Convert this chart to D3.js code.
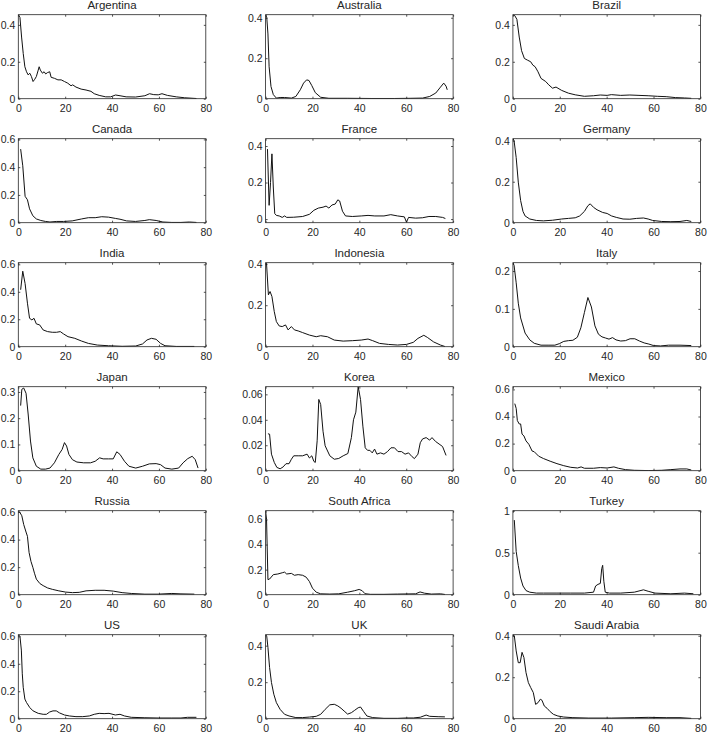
<!DOCTYPE html>
<html>
<head>
<meta charset="utf-8">
<title>Country panels</title>
<script src="https://cdnjs.cloudflare.com/ajax/libs/d3/7.8.5/d3.min.js"></script>
<style>
    body { margin: 0; background: #fff; }
    text { font-family: "Liberation Sans", Arial, sans-serif; fill: #262626; }
</style>
</head>
<body>
<svg id="chart" width="708" height="734"></svg>
<script>
    var countries = ['Argentina', 'Australia', 'Brazil', 'Canada', 'France', 'Germany',
        'India', 'Indonesia', 'Italy', 'Japan', 'Korea', 'Mexico',
        'Russia', 'South Africa', 'Turkey', 'US', 'UK', 'Saudi Arabia'];

    var xTicks = [0, 20, 40, 60, 80];

    // y limits and tick labels
    var yLimits = [[0, 0.455], [0, 0.415], [0, 0.455], [0, 0.605], [-0.02, 0.44], [0, 0.41],
        [0, 0.612], [0, 0.405], [0, 0.222], [0, 0.32], [0, 0.066], [0, 0.62],
        [0, 0.61], [0, 0.67], [0, 1], [0, 0.612], [0, 0.46], [0, 0.405]];
    var yTicks = [[0, 0.2, 0.4], [0, 0.2, 0.4], [0, 0.2, 0.4], [0, 0.2, 0.4, 0.6], [0, 0.2, 0.4], [0, 0.2, 0.4],
        [0, 0.2, 0.4, 0.6], [0, 0.2, 0.4], [0, 0.1, 0.2], [0, 0.1, 0.2, 0.3], [0, 0.02, 0.04, 0.06], [0, 0.2, 0.4, 0.6],
        [0, 0.2, 0.4, 0.6], [0, 0.2, 0.4, 0.6], [0, 0.5, 1], [0, 0.2, 0.4, 0.6], [0, 0.2, 0.4], [0, 0.2, 0.4]];

    var argentina = [[0, 0.455], [0.7, 0.44], [1.4, 0.334], [2.1, 0.245], [2.8, 0.173], [3.5, 0.146], [4.2, 0.129], [4.9, 0.138],
        [5.6, 0.12], [6.3, 0.093], [7, 0.105], [7.7, 0.12], [8.5, 0.155], [8.9, 0.173], [9.4, 0.155], [10.3, 0.138],
        [11, 0.146], [11.7, 0.134], [12.4, 0.141], [13.4, 0.146], [14, 0.116], [15.5, 0.11], [16.9, 0.102], [18.3, 0.102],
        [19.7, 0.093], [21.1, 0.084], [22.5, 0.07], [23.2, 0.075], [24.6, 0.063], [26.8, 0.052], [28.9, 0.047], [31, 0.04],
        [32.4, 0.027], [34.5, 0.018], [37.3, 0.01], [39.4, 0.01], [41.5, 0.02], [43.4, 0.016], [46, 0.01], [50, 0.009],
        [54, 0.016], [56, 0.027], [57.8, 0.022], [59.7, 0.021], [61.3, 0.027], [63.6, 0.018], [67.4, 0.01], [71, 0.005], [76, 0.001]];

    var australia = [[0, 0.415], [0.5, 0.4], [1, 0.32], [1.5, 0.158], [2.3, 0.06], [3.3, 0.02], [4.6, 0.003], [6.2, 0.006],
        [8, 0.006], [11, 0.003], [12.9, 0.011], [14.8, 0.044], [16.2, 0.077], [17.5, 0.093], [18.5, 0.09], [19.7, 0.065],
        [21.2, 0.03], [23.5, 0.007], [27, 0.002], [35, 0.002], [45, 0.001], [55, 0.001], [62, 0.002], [67, 0.003],
        [70, 0.011], [72.6, 0.028], [74.6, 0.057], [76, 0.077], [77, 0.062], [77.5, 0.044]];

    var brazil = [[0, 0.455], [0.8, 0.45], [1.7, 0.43], [2.7, 0.334], [3.7, 0.26], [4.9, 0.218], [6.2, 0.209], [7.6, 0.2],
        [8.5, 0.182], [9.5, 0.173], [10.7, 0.146], [12, 0.11], [14, 0.093], [15.3, 0.075], [16.9, 0.057], [18.4, 0.063],
        [20.8, 0.045], [23.7, 0.03], [26.6, 0.021], [30.5, 0.013], [34.4, 0.016], [37.3, 0.02], [40.2, 0.018], [42, 0.022],
        [46, 0.018], [49.9, 0.02], [53.8, 0.018], [57.7, 0.016], [61.6, 0.013], [65.4, 0.011], [69.3, 0.006], [73.2, 0.004], [76.1, 0.002]];

    var canada = [[1, 0.53], [1.9, 0.41], [2.9, 0.19], [3.9, 0.165], [4.8, 0.1], [6.2, 0.05], [7.7, 0.027],
        [9.6, 0.016], [11.6, 0.009], [13.5, 0.005], [16.4, 0.009], [19.3, 0.009], [23, 0.013], [27, 0.027], [29.9, 0.036],
        [32.8, 0.036], [35.6, 0.043], [38.5, 0.04], [41.4, 0.031], [43.4, 0.025], [46.2, 0.013], [50, 0.009], [54, 0.016],
        [55.9, 0.022], [58.8, 0.016], [61.7, 0.005], [65.5, 0.002], [69.4, 0.002], [73, 0.005], [76, 0.002]];

    var france = [[0.8, 0.383], [1.5, 0.075], [2.1, 0.2], [2.7, 0.357], [3.3, 0.17], [3.9, 0.03], [4.6, 0.02],
        [5.8, 0.017], [7.1, 0.009], [8.1, 0.017], [9, 0.009], [12, 0.01], [15.8, 0.014], [18.7, 0.026], [20.6, 0.048],
        [22.5, 0.06], [24.5, 0.065], [25.8, 0.071], [27, 0.06], [28.3, 0.077], [29.7, 0.082], [30.8, 0.105], [31.6, 0.099],
        [32.8, 0.043], [34.1, 0.017], [37, 0.014], [40.8, 0.017], [43.7, 0.02], [46.6, 0.017], [50.5, 0.017], [53.4, 0.024],
        [56.3, 0.017], [59.2, 0.012], [60.1, -0.017], [61, 0.009], [64, 0.005], [66.9, 0.007], [69.7, 0.014], [72.6, 0.014],
        [75.5, 0.009], [76.7, 0.003]];

    var germany = [[0, 0.41], [0.5, 0.4], [1.4, 0.318], [2.3, 0.198], [3.3, 0.108], [4.3, 0.055], [5.2, 0.033], [7.2, 0.018],
        [10, 0.011], [13, 0.009], [16.9, 0.012], [20.8, 0.018], [23.7, 0.021], [26.6, 0.024], [28.5, 0.033], [30.5, 0.055],
        [32, 0.083], [33, 0.092], [34.4, 0.075], [35.9, 0.063], [38.3, 0.05], [40.2, 0.045], [42.1, 0.033], [44.1, 0.026],
        [47, 0.018], [49.9, 0.017], [52.8, 0.021], [55.7, 0.023], [57.7, 0.018], [59.6, 0.011], [63.5, 0.006], [67.4, 0.005],
        [71.3, 0.006], [74.2, 0.011], [76.1, 0.006]];

    var india = [[1, 0.415], [1.9, 0.55], [2.9, 0.46], [3.9, 0.317], [4.8, 0.207], [5.8, 0.195], [6.7, 0.207],
        [7.7, 0.166], [9.1, 0.159], [10.6, 0.122], [12.5, 0.11], [14.5, 0.105], [16.3, 0.105], [17.9, 0.11], [19.3, 0.093],
        [21.2, 0.073], [24.1, 0.061], [27, 0.041], [29.9, 0.024], [33.7, 0.012], [38.5, 0.007], [44.3, 0.003], [50.1, 0.005],
        [53, 0.02], [54.9, 0.049], [56.8, 0.061], [58.8, 0.054], [60.7, 0.024], [62.6, 0.007], [67.4, 0.002], [75.1, 0.002]];

    var indonesia = [[0, 0.405], [0.4, 0.4], [1.2, 0.25], [1.9, 0.266], [2.7, 0.242], [3.7, 0.169], [4.6, 0.121], [5.8, 0.1],
        [7.1, 0.097], [8.5, 0.105], [9.6, 0.081], [11, 0.097], [12.3, 0.081], [13.9, 0.076], [15.8, 0.068], [18.7, 0.056],
        [21.6, 0.048], [23.5, 0.053], [26.4, 0.048], [29.3, 0.032], [33.1, 0.027], [37, 0.029], [40.8, 0.032], [43.7, 0.037],
        [45.7, 0.029], [48.6, 0.016], [52.4, 0.011], [56.3, 0.008], [60.1, 0.011], [63, 0.021], [65, 0.04], [67.5, 0.055],
        [69, 0.045], [71.7, 0.023], [74.6, 0.008], [76.5, 0.001]];

    var italy = [[0, 0.222], [0.5, 0.215], [1.4, 0.169], [2.3, 0.115], [3.3, 0.076], [5.2, 0.036], [7.2, 0.018], [9.1, 0.009],
        [12, 0.004], [15, 0.004], [17.9, 0.004], [19.8, 0.008], [21.7, 0.014], [23.7, 0.016], [25.6, 0.017], [27.5, 0.025],
        [29, 0.05], [30.5, 0.09], [32, 0.13], [33.5, 0.105], [35, 0.055], [36.5, 0.033], [38, 0.026], [39.5, 0.023],
        [41, 0.02], [42.5, 0.024], [44, 0.018], [46, 0.015], [48, 0.016], [50, 0.021], [52, 0.021], [54, 0.015],
        [56, 0.01], [58, 0.007], [60, 0.003], [63, 0.002], [66.4, 0.004], [71.3, 0.004], [76.1, 0.003]];

    var japan = [[1, 0.248], [1.5, 0.31], [2.3, 0.315], [3.3, 0.295], [4.2, 0.216], [5.2, 0.113], [6.2, 0.049], [7.7, 0.017],
        [9.6, 0.006], [11.6, 0.006], [13.5, 0.01], [15.4, 0.03], [17.3, 0.062], [18.7, 0.081], [19.7, 0.107], [20.6, 0.094],
        [21.6, 0.062], [23.1, 0.042], [25, 0.033], [27.9, 0.03], [30.8, 0.03], [32.8, 0.036], [34.7, 0.049], [36.2, 0.045],
        [38.5, 0.045], [40.5, 0.045], [42, 0.072], [43.4, 0.062], [45.3, 0.036], [47.2, 0.017], [50.1, 0.01], [53, 0.017],
        [55.9, 0.026], [58.8, 0.027], [60.7, 0.023], [62.6, 0.01], [65.5, 0.006], [68.4, 0.01], [70.3, 0.03], [72.3, 0.046],
        [74.2, 0.055], [75.5, 0.042], [76.7, 0.01]];

    var korea = [[1, 0.029], [1.7, 0.0287], [2.5, 0.013], [3.7, 0.0065], [4.8, 0.0026], [6.2, 0.0015], [7.5, 0.003], [8.7, 0.0055],
        [10, 0.0055], [11, 0.009], [12, 0.0117], [13.9, 0.0117], [15.8, 0.0117], [17.7, 0.013], [18.7, 0.01], [19.7, 0.0117],
        [20.6, 0.0073], [21.2, 0.0065], [22, 0.0235], [22.7, 0.056], [23.5, 0.052], [24.5, 0.031], [25.4, 0.0196], [27.4, 0.0117],
        [29.3, 0.009], [31.2, 0.0096], [33.1, 0.0117], [35.1, 0.0135], [36.6, 0.026], [37.5, 0.04], [38.5, 0.046], [39.5, 0.066],
        [40.5, 0.056], [41.5, 0.035], [42.5, 0.018], [43.5, 0.016], [44.5, 0.016], [45.5, 0.014], [46.5, 0.017], [47.5, 0.013],
        [49, 0.014], [50.5, 0.013], [52, 0.015], [53.5, 0.018], [55, 0.018], [56.5, 0.015], [58, 0.015], [59.5, 0.013],
        [61, 0.014], [62.5, 0.011], [63.5, 0.0095], [65, 0.013], [66, 0.022], [67, 0.025], [68.5, 0.026], [70, 0.024],
        [71, 0.026], [72.5, 0.023], [74, 0.021], [75.5, 0.019], [77, 0.012]];

    var mexico = [[0.8, 0.495], [1.4, 0.46], [1.9, 0.37], [2.7, 0.345], [3.3, 0.345], [3.9, 0.27], [4.7, 0.257],
        [5.6, 0.22], [6.8, 0.195], [8.2, 0.145], [9.1, 0.14], [11, 0.107], [13, 0.09], [15.9, 0.07], [18.8, 0.052],
        [21.7, 0.037], [24.7, 0.025], [27.6, 0.02], [29.1, 0.028], [30.5, 0.018], [34.4, 0.018], [37.3, 0.023], [40.2, 0.02],
        [43.1, 0.028], [45, 0.018], [48, 0.008], [51.8, 0.003], [57.7, 0.001], [63.5, 0.003], [67.4, 0.008], [71.3, 0.013],
        [74.2, 0.013], [76.1, 0.005]];

    var russia = [[0, 0.61], [0.6, 0.6], [1.5, 0.573], [2.3, 0.51], [3.3, 0.455], [3.9, 0.424], [4.6, 0.306], [5.4, 0.242],
        [6.2, 0.199], [6.9, 0.156], [7.7, 0.113], [9.2, 0.081], [10.6, 0.066], [12.5, 0.049], [14.5, 0.039], [17.3, 0.028],
        [20.2, 0.019], [23.1, 0.015], [26, 0.017], [28.9, 0.028], [32.8, 0.032], [36.6, 0.032], [40.5, 0.026], [44.3, 0.015],
        [48.2, 0.009], [54, 0.004], [59.7, 0.004], [65.5, 0.009], [69.4, 0.006], [75.1, 0.004]];

    var southAfrica = [[0, 0.67], [0.4, 0.6], [1, 0.12], [1.7, 0.125], [3.3, 0.16], [5.2, 0.165], [7.1, 0.175], [8.1, 0.18],
        [9, 0.165], [11, 0.17], [12.3, 0.155], [13.9, 0.16], [15.8, 0.155], [17.3, 0.14], [18.7, 0.105], [20, 0.052],
        [21.6, 0.02], [23.5, 0.007], [27.4, 0.005], [31.2, 0.007], [35, 0.02], [38, 0.032], [39.9, 0.042], [41.2, 0.032],
        [42.4, 0.008], [44.7, 0.003], [50.5, 0.003], [56.3, 0.005], [64, 0.007], [65.9, 0.022], [67.8, 0.012], [70.7, 0.005],
        [74.6, 0.007], [76.5, 0.002]];

    var turkey = [[0.6, 0.888], [1.4, 0.515], [2.3, 0.347], [3.3, 0.198], [4.3, 0.104], [5.6, 0.049], [7.2, 0.03],
        [10, 0.019], [13, 0.019], [18.8, 0.019], [24.7, 0.019], [30.5, 0.019], [34.4, 0.03], [35.3, 0.104], [36.3, 0.123],
        [37.3, 0.134], [37.9, 0.31], [38.3, 0.35], [38.8, 0.16], [39.4, 0.03], [41.2, 0.019], [46, 0.019], [51.8, 0.03],
        [55.7, 0.058], [57.7, 0.041], [60.6, 0.019], [67.4, 0.011], [73.2, 0.019], [77, 0.011]];

    var us = [[0, 0.612], [0.7, 0.6], [1.3, 0.5], [1.7, 0.327], [2.1, 0.229], [2.8, 0.143], [3.5, 0.118], [4.9, 0.081],
        [6.3, 0.057], [8.5, 0.039], [10.6, 0.032], [12, 0.032], [13.4, 0.049], [14.8, 0.057], [16.2, 0.057], [17.6, 0.042],
        [19.7, 0.027], [21.8, 0.02], [24.6, 0.015], [27.5, 0.015], [30.3, 0.02], [32.4, 0.032], [34.5, 0.039], [36.6, 0.037],
        [38.7, 0.039], [41.4, 0.027], [43.4, 0.032], [45.3, 0.02], [48.2, 0.01], [54, 0.007], [59.7, 0.005], [65.5, 0.005],
        [69.4, 0.005], [72.2, 0.01], [76, 0.01]];

    var uk = [[0, 0.46], [0.5, 0.45], [1, 0.39], [1.7, 0.28], [2.5, 0.198], [3.5, 0.134], [4.6, 0.088], [6.2, 0.051],
        [8.1, 0.024], [10, 0.015], [12.9, 0.006], [15.8, 0.006], [18.7, 0.009], [21.6, 0.013], [23.5, 0.024], [25.4, 0.051],
        [27.4, 0.076], [29.3, 0.079], [30.8, 0.07], [32.2, 0.057], [33.5, 0.042], [35, 0.025], [36.6, 0.033], [38, 0.046],
        [39.5, 0.06], [40.5, 0.064], [41.8, 0.04], [43.2, 0.015], [45.7, 0.006], [50.5, 0.002], [56.3, 0.002], [60.1, 0.004],
        [63, 0.004], [66, 0.008], [68.5, 0.02], [70, 0.013], [73.6, 0.011], [76.5, 0.01]];

    var saudiArabia = [[0, 0.405], [0.6, 0.4], [1.4, 0.327], [2.3, 0.27], [3.1, 0.27], [3.9, 0.32], [4.7, 0.295], [5.6, 0.222],
        [6.6, 0.174], [7.6, 0.15], [8.7, 0.126], [9.7, 0.069], [10.7, 0.077], [11.7, 0.094], [12.4, 0.089], [13.4, 0.061],
        [14.6, 0.05], [15.9, 0.034], [17.3, 0.021], [19.2, 0.013], [21.7, 0.008], [25.6, 0.005], [32.4, 0.003], [42, 0.003],
        [51.8, 0.005], [57.7, 0.0065], [65.4, 0.005], [71.3, 0.005], [76.1, 0.0016]];

    var series = [argentina, australia, brazil, canada, france, germany,
        india, indonesia, italy, japan, korea, mexico,
        russia, southAfrica, turkey, us, uk, saudiArabia];

    var svg = d3.select('#chart');

    var left0 = 18.3, top0 = 14.7,
        colStep = 247.3, rowStep = 124,
        width = 187.5, height = 84,
        tick = 2;

    countries.forEach(function(name, i) {
        var col = i % 3,
            row = Math.floor(i / 3);

        var g = svg.append('g')
            .attr('transform', 'translate(' + (left0 + col * colStep) + ',' + (top0 + row * rowStep) + ')');

        var x = d3.scaleLinear().domain([0, 80]).range([0, width]);
        var y = d3.scaleLinear().domain(yLimits[i]).range([height, 0]);

        g.append('clipPath')
            .attr('id', 'clip' + i)
            .append('rect')
            .attr('width', width)
            .attr('height', height);

        // ticks point inward on all four sides
        g.append('g')
            .attr('transform', 'translate(0,' + height + ')')
            .call(d3.axisBottom(x).tickValues(xTicks).tickSizeInner(-tick).tickSizeOuter(0).tickPadding(5.5).tickFormat(String));
        g.append('g')
            .call(d3.axisTop(x).tickValues(xTicks).tickSizeInner(-tick).tickSizeOuter(0).tickFormat(''));
        g.append('g')
            .call(d3.axisLeft(y).tickValues(yTicks[i]).tickSizeInner(-tick).tickSizeOuter(0).tickPadding(3).tickFormat(String));
        g.append('g')
            .attr('transform', 'translate(' + width + ',0)')
            .call(d3.axisRight(y).tickValues(yTicks[i]).tickSizeInner(-tick).tickSizeOuter(0).tickFormat(''));

        g.selectAll('.domain').remove();
        g.selectAll('.tick line').attr('stroke', '#262626').attr('stroke-width', 0.8);
        g.selectAll('.tick text')
            .attr('fill', '#262626')
            .style('font-size', '10.5px')
            .style('font-family', '"Liberation Sans", Arial, sans-serif');

        g.append('path')
            .datum(series[i])
            .attr('clip-path', 'url(#clip' + i + ')')
            .attr('fill', 'none')
            .attr('stroke', '#111')
            .attr('stroke-width', 1)
            .attr('stroke-linejoin', 'round')
            .attr('d', d3.line().x(function(d) { return x(d[0]); }).y(function(d) { return y(d[1]); }));

        g.append('rect')
            .attr('width', width)
            .attr('height', height)
            .attr('fill', 'none')
            .attr('stroke', '#262626')
            .attr('stroke-width', 0.8);

        g.append('text')
            .attr('x', width / 2)
            .attr('y', -5.5)
            .attr('text-anchor', 'middle')
            .style('font-size', '11.5px')
            .text(name);
    });
</script>
</body>
</html>
